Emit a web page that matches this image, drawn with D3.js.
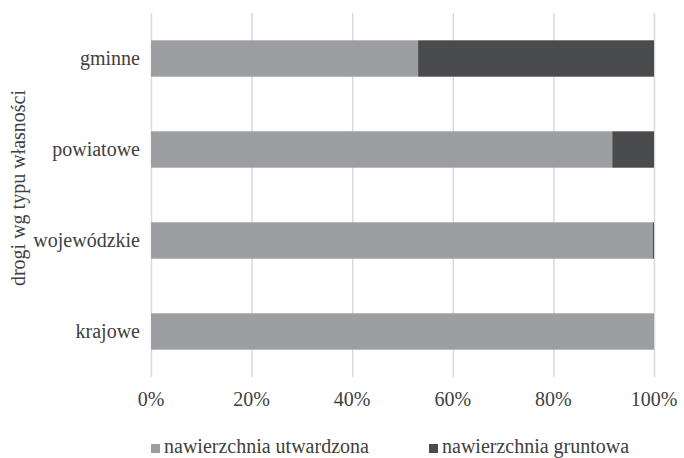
<!DOCTYPE html>
<html>
<head>
<meta charset="utf-8">
<script src="https://cdn.jsdelivr.net/npm/d3@7"></script>
<style>
  body { margin: 0; background: #fff; }
  svg text { fill: #404040; }
</style>
</head>
<body>
<div id="chart"></div>
<script>
// data
let categories = ["gminne", "powiatowe", "wojewódzkie", "krajowe"];
let seriesNames = ["nawierzchnia utwardzona", "nawierzchnia gruntowa"];
let paved = [53.1, 91.7, 99.8, 100];
let dirt = [46.9, 8.3, 0.2, 0];
let tickValues = [0, 20, 40, 60, 80, 100];
let axisTitle = "drogi wg typu własności";

let screen = {width: 684, height: 458};
let margin = {top: 13, right: 30, bottom: 82, left: 151};
let colors = ["#9d9ea1", "#4a4b4d"];
let fontFam = "'Liberation Serif', Tinos, 'Nimbus Roman', 'Nimbus Roman No9 L', FreeSerif, 'Noto Serif', 'DejaVu Serif', 'Times New Roman', serif";

let svg = d3.select("#chart")
    .append("svg")
    .attr("width", screen.width)
    .attr("height", screen.height)
    .style("font-family", fontFam);

let xScale = d3.scaleLinear()
    .domain([0, 100])
    .range([margin.left, 654]);

let yScale = d3.scaleBand()
    .domain(categories)
    .range([margin.top, screen.height - margin.bottom + 1])
    .paddingInner(0.6)
    .paddingOuter(0.3);

// gridlines
svg.append("g")
    .selectAll("line")
    .data(tickValues)
    .enter()
    .append("line")
    .attr("x1", d => xScale(d) + 0.5)
    .attr("x2", d => xScale(d) + 0.5)
    .attr("y1", margin.top)
    .attr("y2", screen.height - margin.bottom + 1)
    .attr("stroke", "#d9d9d9")
    .attr("stroke-width", 1.5);

// stacked bars
let rows = categories.map((c, i) => ({cat: c, paved: paved[i], dirt: dirt[i]}));
let stack = d3.stack().keys(["paved", "dirt"])(rows);

svg.append("g")
    .selectAll("g")
    .data(stack)
    .enter()
    .append("g")
    .attr("fill", (d, i) => colors[i])
    .selectAll("rect")
    .data(d => d)
    .enter()
    .append("rect")
    .attr("x", d => xScale(d[0]))
    .attr("y", d => yScale(d.data.cat))
    .attr("width", d => xScale(d[1]) - xScale(d[0]))
    .attr("height", yScale.bandwidth());

// category labels
svg.append("g")
    .selectAll("text")
    .data(categories)
    .enter()
    .append("text")
    .attr("x", 140)
    .attr("y", d => yScale(d) + yScale.bandwidth() / 2)
    .attr("dy", "0.32em")
    .attr("text-anchor", "end")
    .attr("font-size", 20)
    .text(d => d);

// x tick labels
svg.append("g")
    .selectAll("text")
    .data(tickValues)
    .enter()
    .append("text")
    .attr("x", d => xScale(d))
    .attr("y", 406)
    .attr("text-anchor", "middle")
    .attr("font-size", 20)
    .text(d => d + "%");

// axis title
svg.append("text")
    .attr("transform", "translate(25,188) rotate(-90)")
    .attr("text-anchor", "middle")
    .attr("font-size", 20)
    .text(axisTitle);

// legend
let legendX = [151, 429];
let legend = svg.append("g")
    .selectAll("g")
    .data(seriesNames)
    .enter()
    .append("g")
    .attr("transform", (d, i) => "translate(" + legendX[i] + ",444)");

legend.append("rect")
    .attr("width", 9)
    .attr("height", 9)
    .attr("fill", (d, i) => colors[i]);

legend.append("text")
    .attr("x", 13)
    .attr("y", 9)
    .attr("font-size", 20)
    .text(d => d);
</script>
</body>
</html>
